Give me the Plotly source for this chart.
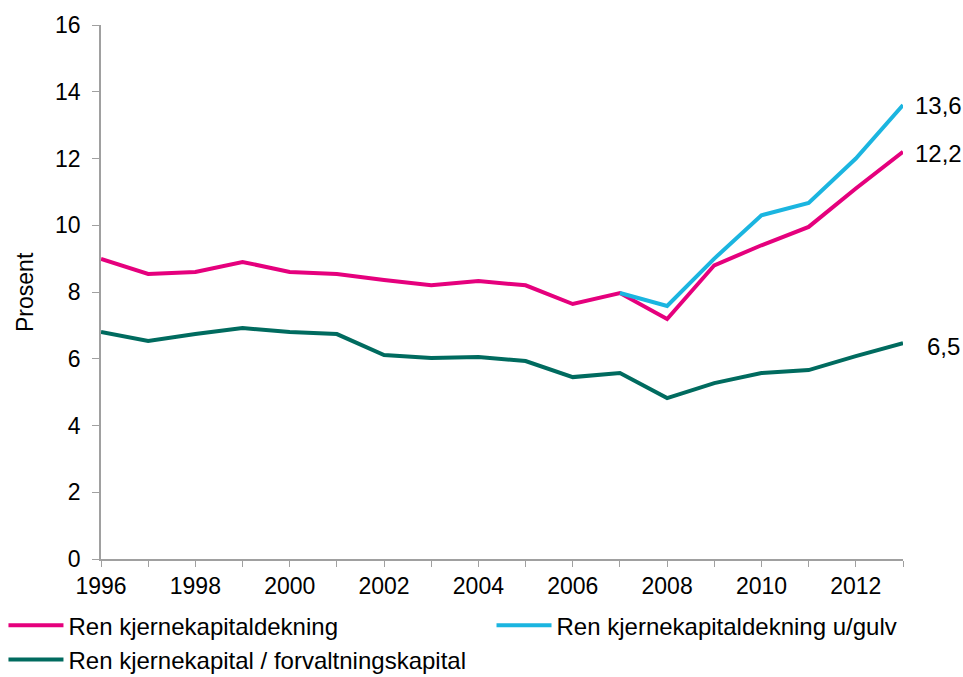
import plotly.graph_objects as go

years = list(range(1996, 2014))
ren_kjerne = [8.99, 8.54, 8.6, 8.9, 8.6, 8.54, 8.36, 8.2, 8.33, 8.2, 7.64, 7.97, 7.19, 8.8, 9.4, 9.95, 11.1, 12.2]
ugulv_years = list(range(2007, 2014))
ren_kjerne_ugulv = [7.97, 7.58, 9.0, 10.3, 10.67, 12.0, 13.6]
ren_forvaltning = [6.8, 6.53, 6.74, 6.92, 6.8, 6.74, 6.11, 6.02, 6.05, 5.93, 5.45, 5.57, 4.82, 5.27, 5.57, 5.66, 6.08, 6.47]

names = ["Ren kjernekapitaldekning", "Ren kjernekapitaldekning u/gulv",
         "Ren kjernekapital / forvaltningskapital"]
colors = ["#E5007D", "#1BB5E0", "#006B5F"]
y_ticks = [0, 2, 4, 6, 8, 10, 12, 14, 16]
x_ticks = list(range(1996, 2014, 2))
y_title = "Prosent"

FS = 23
LFS = 24

fig = go.Figure()
fig.add_trace(go.Scatter(x=years, y=ren_kjerne, mode="lines", name=names[0],
                         line=dict(color=colors[0], width=4), legend="legend",
                         legendgroup="a"))
fig.add_trace(go.Scatter(x=ugulv_years, y=ren_kjerne_ugulv, mode="lines", name=names[1],
                         line=dict(color=colors[1], width=4), legend="legend2",
                         legendgroup="b"))
fig.add_trace(go.Scatter(x=years, y=ren_forvaltning, mode="lines", name=names[2],
                         line=dict(color=colors[2], width=4), legend="legend",
                         legendgroup="c"))

def fmt(v):
    return f"{v:.1f}".replace(".", ",")

for xv, yv, xs, ys in [(ugulv_years[-1], ren_kjerne_ugulv[-1], 10, 0),
                       (years[-1], ren_kjerne[-1], 10, -2),
                       (years[-1], ren_forvaltning[-1], 22, -3)]:
    fig.add_annotation(x=xv, y=yv, text=fmt(yv), showarrow=False, xanchor="left",
                       xshift=xs, yshift=ys, font=dict(size=LFS, color="#000000"))

# y-axis title as rotated annotation
fig.add_annotation(xref="paper", yref="paper", x=-0.0948, y=0.5, text=y_title,
                   textangle=-90, showarrow=False, xanchor="center", yanchor="middle",
                   font=dict(size=FS, color="#000000"))

leg_common = dict(orientation="v", xref="container", yref="container",
                  xanchor="left", yanchor="top",
                  font=dict(size=LFS, color="#000000"),
                  itemwidth=55, tracegroupgap=0, bgcolor="rgba(0,0,0,0)")
fig.update_layout(
    width=963, height=677,
    paper_bgcolor="white", plot_bgcolor="white",
    margin=dict(l=101, r=60, t=25, b=118, autoexpand=False),
    font=dict(family="Liberation Sans, Arial, sans-serif", size=FS, color="#000000"),
    showlegend=True,
    legend=dict(x=0.0036, y=0.109, **leg_common),
    legend2=dict(x=0.5104, y=0.109, **leg_common),
)
fig.update_xaxes(range=[1996, 2013], tickmode="array", tickvals=x_ticks,
                 ticktext=[str(t) for t in x_ticks], automargin=False,
                 showgrid=False, showline=True, linecolor="#A0A0A0", linewidth=1.5,
                 ticks="outside", ticklen=6, tickcolor="#A0A0A0",
                 minor=dict(tickmode="linear", dtick=1, ticks="outside", ticklen=6, tickcolor="#A0A0A0"),
                 zeroline=False, tickfont=dict(size=FS))
fig.update_yaxes(range=[0, 16], tickmode="array", tickvals=y_ticks, automargin=False,
                 showgrid=False, showline=True, linecolor="#A0A0A0", linewidth=1.5,
                 ticks="outside", ticklen=7, tickcolor="#A0A0A0", ticklabelstandoff=7,
                 zeroline=False, tickfont=dict(size=FS))

fig.write_html("out.html", config={"displayModeBar": False},
               post_script="document.body.style.margin='0';document.body.style.overflow='hidden';")
